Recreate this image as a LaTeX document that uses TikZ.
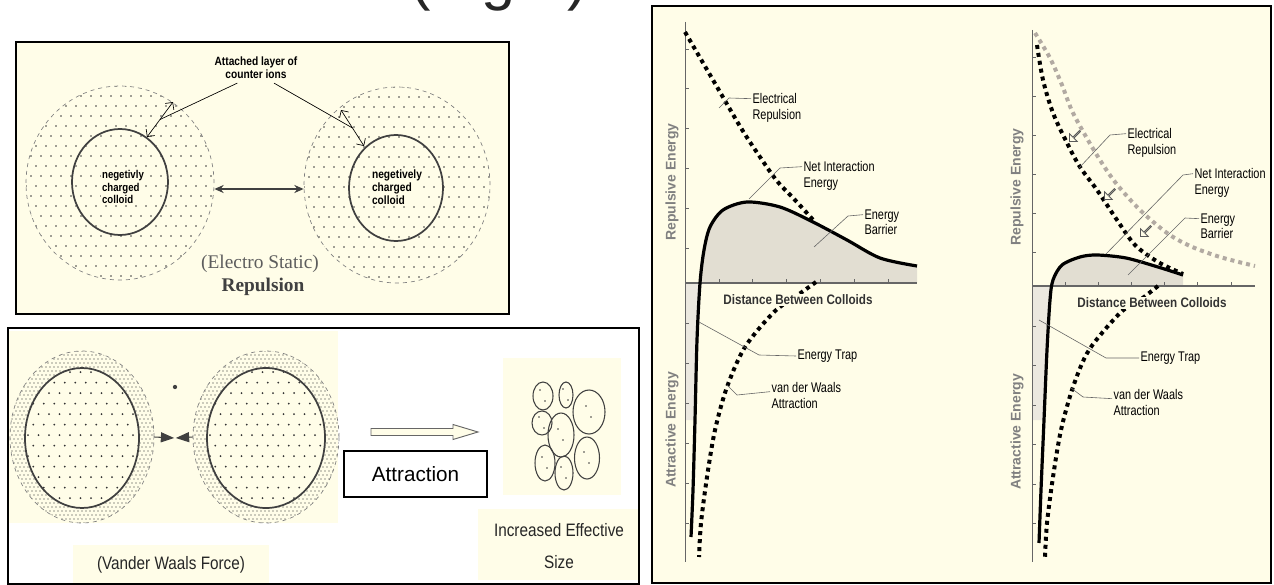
\documentclass[tikz,border=0pt]{standalone}
\usepackage{fontspec}
\setmainfont{Liberation Sans}
\newfontfamily\serifface{Liberation Serif}
\newfontfamily\narrowface[FakeStretch=0.85]{Liberation Sans}
\newfontfamily\condface[FakeStretch=0.78]{Liberation Sans}
\usetikzlibrary{arrows.meta,shapes.geometric,shapes.arrows,calc}

\definecolor{cream}{RGB}{255,253,232}
\definecolor{sand}{RGB}{226,222,210}
\definecolor{ink}{RGB}{64,64,64}
\definecolor{ashgray}{RGB}{178,170,162}

% staggered dot grid: left, top, columns, rows, step, dot radius
\newcommand\stipple[6]{%
  \foreach \i in {0,...,#3}
    \foreach \j in {0,...,#4}
      \fill ({#1+(\i+mod(\j,2)/2)*#5},{#2+\j*#5}) circle (#6);
}

\tikzset{
  panel/.style={draw=black, line width=1.1pt, fill=cream},
  halo/.style={ellipse, draw=gray, dashed, line width=.5pt, inner sep=0},
  core/.style={ellipse, draw=ink, line width=1.3pt, inner sep=0},
  netline/.style={line width=2.4pt, line join=round},
  heavydash/.style={line width=3pt, dash pattern=on 3pt off 3pt},
  leader/.style={draw=gray!80!black, line width=.45pt},
  axisline/.style={draw=gray!80!black, line width=.6pt},
  curvetag/.style={font=\condface\fontsize{10.5}{11.5}\selectfont, text=black, align=left, inner sep=1pt, anchor=north west},
  axislbl/.style={font=\bfseries\fontsize{10.5}{12}\selectfont, text=gray, rotate=90},
  hollow/.style={single arrow, draw=gray!70!black, fill=cream, line width=.6pt, minimum height=11pt, minimum width=8pt, single arrow head extend=2pt, inner sep=0},
}

\begin{document}
\begin{tikzpicture}[x=0.75pt,y=-0.75pt]
  \useasboundingbox (0,0) rectangle (1274,585);
  \node[font=\fontsize{46}{48}\selectfont, anchor=base, text=black!85] (title) at (499,-1) {(Fig 1)};

  % --- electrostatic repulsion ---
  \draw[panel] (16,42) rectangle (509,314);
  \begin{scope}[gray!50!black]
    \clip (120,183) ellipse [x radius=94, y radius=97];
    \stipple{26}{86}{19}{20}{10}{.7pt}
  \end{scope}
  \begin{scope}[gray!50!black]
    \clip (397,185) ellipse [x radius=93, y radius=98];
    \stipple{304}{87}{19}{20}{10}{.7pt}
  \end{scope}
  \node[halo, minimum width=141pt, minimum height=145.5pt] (ringL) at (120,183) {};
  \node[halo, minimum width=139.5pt, minimum height=147pt] (ringR) at (397,185) {};
  \node[core, minimum width=72pt, minimum height=79.5pt] (coreL) at (120,182) {};
  \node[core, minimum width=70.5pt, minimum height=79.5pt] (coreR) at (396,188) {};
  \node[font=\narrowface\bfseries\fontsize{8.5}{9.5}\selectfont, align=left, fill=cream, inner sep=.5pt] (txtL) at (123,187) {negetivly\\charged\\colloid};
  \node[font=\narrowface\bfseries\fontsize{9}{9.75}\selectfont, align=left, fill=cream, inner sep=.5pt] (txtR) at (397,187) {negetively\\charged\\colloid};
  \node[font=\narrowface\bfseries\fontsize{9}{9.75}\selectfont, align=center] (ions) at (256,67.5) {Attached layer of\\counter ions};

  \coordinate (layL1) at (173,102);
  \coordinate (layL2) at (147,137);
  \coordinate (layR1) at (341,110);
  \coordinate (layR2) at (364,146);
  \draw[{Straight Barb[length=4pt]}-{Straight Barb[length=4pt]}, line width=.5pt] (layL1) -- (layL2);
  \draw[{Straight Barb[length=4pt]}-{Straight Barb[length=4pt]}, line width=.5pt] (layR1) -- (layR2);
  \draw[line width=.5pt] ([xshift=-14pt]ions.south) -- ($(layL1)!.5!(layL2)$);
  \draw[line width=.5pt] ([xshift=13.5pt]ions.south) -- ($(layR1)!.5!(layR2)$);

  \draw[{Stealth[length=7pt,width=6pt]}-{Stealth[length=7pt,width=6pt]}, line width=1.2pt, ink] ([yshift=-4.5pt]ringL.east) -- ([yshift=-3pt]ringR.west);
  \node[font=\serifface\fontsize{14.5}{16}\selectfont, text=ink!85] (estat) at (260,264) {(Electro Static)};
  \node[font=\serifface\bfseries\fontsize{14.5}{16}\selectfont, text=ink] (repul) at (263,287) {Repulsion};

  % --- van der Waals attraction ---
  \draw[panel, fill=white] (8,328) rectangle (639,584);
  \fill[cream] (9,331) rectangle (338,523);
  \fill[cream] (503,358) rectangle (621,495);
  \fill[cream] (478,509) rectangle (638,580);
  \fill[cream] (73,545) rectangle (269,583);

  \begin{scope}[gray!30!black]
    \clip (82,437) ellipse [x radius=72, y radius=86];
    \stipple{10}{351}{36}{43}{4}{.55pt}
  \end{scope}
  \fill[cream] (82,438) ellipse [x radius=57, y radius=70];
  \begin{scope}[gray!40!black]
    \clip (82,438) ellipse [x radius=57, y radius=70];
    \stipple{28}{372}{11}{13}{10.5}{.75pt}
  \end{scope}
  \begin{scope}[gray!30!black]
    \clip (266,437) ellipse [x radius=73, y radius=86];
    \stipple{193}{351}{37}{43}{4}{.55pt}
  \end{scope}
  \fill[cream] (266,438) ellipse [x radius=59, y radius=70];
  \begin{scope}[gray!40!black]
    \clip (266,438) ellipse [x radius=59, y radius=70];
    \stipple{210}{372}{11}{13}{10.5}{.75pt}
  \end{scope}
  \node[halo, minimum width=108pt, minimum height=129pt] (vdwL) at (82,437) {};
  \node[halo, minimum width=109.5pt, minimum height=129pt] (vdwR) at (266,437) {};
  \node[core, minimum width=85.5pt, minimum height=105pt] (cellL) at (82,438) {};
  \node[core, minimum width=88.5pt, minimum height=105pt] (cellR) at (266,438) {};

  \coordinate (pinch) at (175,438);
  \draw[line width=.8pt, ink, -{Triangle[length=10pt,width=7.5pt]}] (vdwL.east) -- ([xshift=-.6pt]pinch);
  \draw[line width=.8pt, ink, -{Triangle[length=10pt,width=7.5pt]}] (vdwR.west) -- ([xshift=.6pt]pinch);
  \fill[ink] (175,387) circle (1.6pt);

  \draw[gray!80!black, line width=.7pt, fill=cream] (371,428.5) -- (453,428.5) -- (453,424.5) -- (478,432)
    -- (453,439.5) -- (453,435.5) -- (371,435.5) -- cycle;
  \node[draw=black, line width=1.1pt, fill=white, minimum width=107pt, minimum height=34.5pt,
        font=\fontsize{15.5}{17}\selectfont] (attr) at (415.5,474) {Attraction};

  \foreach \cx/\cy/\rx/\ry in {543/396/10/14, 566/395/7/13, 589/412/16/22, 542/423/10/12,
      561/435/13/22, 587/458/12.5/21, 545/463/10/18, 564/473/9/17} {
    \draw[ink, line width=.8pt] (\cx,\cy) ellipse [x radius=\rx, y radius=\ry];
    \fill[ink] (\cx-3,\cy-6) circle (.6pt);
    \fill[ink] (\cx+2,\cy+5) circle (.6pt);
  }
  \node[font=\narrowface\fontsize{13.5}{24}\selectfont, align=center, text=black!85] (bigger) at (559,546) {Increased Effective\\Size};
  \node[font=\narrowface\fontsize{13.5}{16}\selectfont, text=black!85] (vdwtxt) at (171,565) {(Vander Waals Force)};

  % --- energy curves ---
  \draw[panel] (652,6) rectangle (1271,583);

  % left plot
  \fill[sand] plot[smooth] coordinates {(700,283) (704,250) (710,227) (723,210) (747,202) (780,207)
      (813,222) (847,240) (880,258) (917,266)} -- (917,283) -- cycle;
  \fill[sand!70] (685,283) -- (700,283) -- (697,340) -- (695,420) -- (685,420) -- cycle;
  \draw[axisline] (685,22) -- (685,562);
  \draw[axisline, line width=.9pt] (685,283) -- (917,283);
  \foreach \t in {0,...,5} {
    \draw[axisline] (685,{248-39.8*\t}) -- ++(4,0);
    \draw[axisline] (685,{323+40*\t}) -- ++(4,0);
    \draw[axisline] ({719+33.8*\t},283) -- ++(0,-4);
  }
  \draw[netline] plot[smooth] coordinates {(691,537) (693,490) (695,420) (697,340) (700,283) (704,250)
      (710,227) (723,210) (747,202) (780,207) (813,222) (847,240) (880,258) (917,266)};
  \draw[heavydash] plot[smooth] coordinates {(685,32) (713,80) (741,128) (760,157) (777,181) (795,200) (815,222)};
  \draw[heavydash] plot[smooth] coordinates {(816,282) (795,297) (774,312) (745,347) (727,387) (715,430)
      (707,477) (701,523) (699,557)};
  \node[font=\narrowface\bfseries\fontsize{10.3}{12}\selectfont, text=black!80, fill=cream, inner sep=1pt] (distA) at (798,300) {Distance Between Colloids};
  \node[axislbl] (repA) at (672,182) {Repulsive Energy};
  \node[axislbl] (attA) at (672,430) {Attractive Energy};

  \node[curvetag] (elecA) at (751,92) {Electrical\\Repulsion};
  \node[curvetag] (netA) at (802,160) {Net Interaction\\Energy};
  \node[curvetag] (barA) at (863,208) {Energy\\Barrier};
  \node[curvetag, anchor=west] (trapA) at (796,356) {Energy Trap};
  \node[curvetag] (waalsA) at (770,381) {van der Waals\\Attraction};
  \draw[leader] (719,108) -- (729,98) -- ([yshift=-5pt]elecA.north west);
  \draw[leader] (749,199) -- (780,168) -- ([yshift=-5pt]netA.north west);
  \draw[leader] (814,247) -- (848,216) -- ([yshift=-5pt]barA.north west);
  \draw[leader] (699,322) -- (759,355) -- (trapA.west);
  \draw[leader] (727,385) -- (737,395) -- ([yshift=-8pt]waalsA.north west);

  % right plot
  \fill[sand] plot[smooth] coordinates {(1051,286) (1053,280) (1062,265) (1080,257) (1097,255) (1126,258)
      (1158,267) (1183,275)} -- (1183,286) -- cycle;
  \fill[sand!70] (1032,286) -- (1051,286) -- (1047,350) -- (1045,420) -- (1032,420) -- cycle;
  \draw[axisline] (1032,30) -- (1032,562);
  \draw[axisline, line width=.9pt] (1032,286) -- (1255,286);
  \foreach \t in {0,...,5} {
    \draw[axisline] (1032,{252-39*\t}) -- ++(4,0);
    \draw[axisline] (1032,{326+39.5*\t}) -- ++(4,0);
    \draw[axisline] ({1065+33.2*\t},286) -- ++(0,-4);
  }
  \draw[heavydash, ashgray] plot[smooth] coordinates {(1035,33) (1050,58) (1062,85) (1073,113) (1095,152)
      (1115,182) (1140,210) (1167,233) (1190,246) (1220,257) (1255,266)};
  \draw[netline] plot[smooth] coordinates {(1039,543) (1041,490) (1044,420) (1047,350) (1050,300) (1053,280)
      (1062,265) (1080,257) (1097,255) (1126,258) (1158,267) (1183,275)};
  \draw[heavydash] plot[smooth] coordinates {(1037,45) (1043,80) (1053,113) (1067,143) (1080,167) (1097,190)
      (1117,220) (1135,245) (1158,262) (1183,274)};
  \draw[heavydash] plot[smooth] coordinates {(1158,286) (1140,300) (1120,313) (1089,350) (1073,387) (1061,430)
      (1053,477) (1047,523) (1045,557)};
  \node[font=\narrowface\bfseries\fontsize{10.3}{12}\selectfont, text=black!80, fill=cream, inner sep=1pt] (distB) at (1152,303) {Distance Between Colloids};
  \node[axislbl] (repB) at (1017,187) {Repulsive Energy};
  \node[axislbl] (attB) at (1017,432) {Attractive Energy};
  \node[hollow, rotate=225] (dropA) at (1075,136) {};
  \node[hollow, rotate=225] (dropB) at (1110,194) {};
  \node[hollow, rotate=225] (dropC) at (1146,231) {};

  \node[curvetag] (elecB) at (1126,127) {Electrical\\Repulsion};
  \node[curvetag] (netB) at (1193,167) {Net Interaction\\Energy};
  \node[curvetag] (barB) at (1199,212) {Energy\\Barrier};
  \node[curvetag, anchor=west] (trapB) at (1139,358) {Energy Trap};
  \node[curvetag] (waalsB) at (1112,388) {van der Waals\\Attraction};
  \draw[leader] (1079,168) -- (1110,135) -- ([yshift=-5pt]elecB.north west);
  \draw[leader] (1106,254) -- (1183,175) -- ([yshift=-5pt]netB.north west);
  \draw[leader] (1128,275) -- (1185,218) -- ([yshift=-5pt]barB.north west);
  \draw[leader] (1039,320) -- (1106,358) -- (trapB.west);
  \draw[leader] (1071,388) -- (1083,397) -- ([yshift=-8pt]waalsB.north west);
\end{tikzpicture}
\end{document}
